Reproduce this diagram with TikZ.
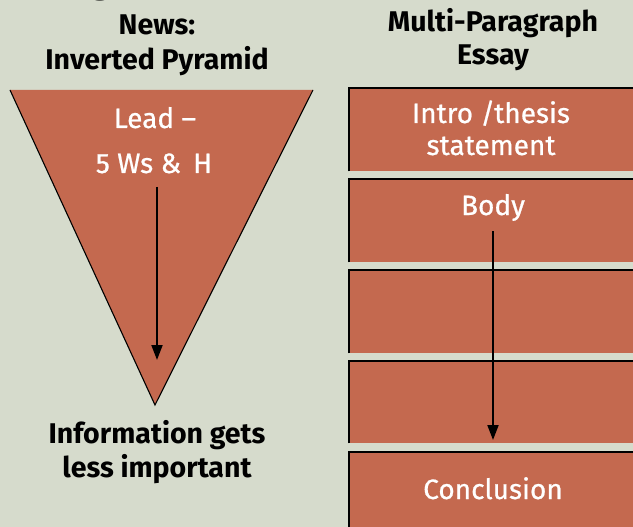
\documentclass[tikz,border=0pt]{standalone}
\usepackage{fontspec}
\setmainfont{Fira Sans}
\newfontfamily\labelfont{Fira Sans}[FakeBold=0.7]
\usetikzlibrary{arrows.meta}
\definecolor{paper}{HTML}{D6DBCC}
\definecolor{brick}{HTML}{C4694F}
\tikzset{
  heading/.style={anchor=base, font=\bfseries\fontsize{28.5}{32}\selectfont, text=black, inner sep=0pt},
  inlabel/.style={anchor=base, font=\labelfont\fontsize{28}{32}\selectfont, text=white, inner sep=0pt},
  essaybox/.style={anchor=north west, fill=brick, draw=none, minimum width=320pt, minimum height=#1, inner sep=0pt},
  edge/.style={black, line width=1.1pt},
  flow/.style={black, line width=2pt, -{Triangle[length=15pt,width=11pt]}}
}
\begin{document}
\begin{tikzpicture}[x=1pt,y=-1pt]
  % page and background
  \useasboundingbox (0,0) rectangle (633,527);
  \fill[paper] (0,0) rectangle (633,527);

  % tail of the title that runs off the top edge
  \node[heading, font=\bfseries\fontsize{34}{40}\selectfont] (titletail) at (101,-6) {g};

  % ---------- left column: inverted pyramid ----------
  \node[heading] (newsA) at (157,35) {News:};
  \node[heading] (newsB) at (157,70) {Inverted Pyramid};

  \coordinate (tl) at (10,90);
  \coordinate (tr) at (313,90);
  \coordinate (apex) at (155,405);
  \fill[brick] (tl) -- (tr) -- (apex) -- cycle;
  \draw[edge, line join=miter] (tl) -- (apex) -- (tr);

  \node[inlabel] (lead) at (155,128) {Lead –};
  \node[inlabel] (fivew) at (154,173) {5 Ws \&\, H};

  \coordinate (ltop) at (157,187);
  \coordinate (lbot) at (157,360);
  \draw[flow] (ltop) -- (lbot);

  \node[heading] (infoA) at (157,443) {Information gets};
  \node[heading] (infoB) at (157,477) {less important};

  % ---------- right column: stacked paragraphs ----------
  \node[heading] (essA) at (493,32) {Multi-Paragraph};
  \node[heading] (essB) at (493,65) {Essay};

  \node[essaybox=83pt] (p1) at (349,88) {};
  \node[essaybox=83pt] (p2) at (349,179) {};
  \node[essaybox=83pt] (p3) at (349,270) {};
  \node[essaybox=82pt] (p4) at (349,361) {};
  \node[essaybox=90pt] (p5) at (349,452) {};
  \foreach \b in {p1,p2,p3,p4,p5}{
    \draw[edge] (\b.south west) -- (\b.north west) -- (\b.north east);
  }

  \node[inlabel] (introA) at (491,123) {Intro /thesis};
  \node[inlabel] (introB) at (491,155) {statement};
  \node[inlabel] (body) at (493,215) {Body};
  \node[inlabel] (concl) at (493,499) {Conclusion};

  \coordinate (rtop) at (493,231);
  \coordinate (rbot) at (493,440);
  \draw[flow] (rtop) -- (rbot);
\end{tikzpicture}
\end{document}
